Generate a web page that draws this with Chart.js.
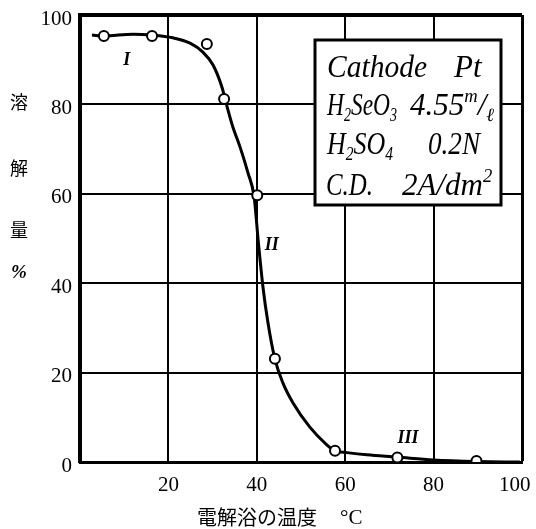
<!DOCTYPE html>
<html>
<head>
<meta charset="utf-8">
<script src="https://cdn.jsdelivr.net/npm/chart.js@4"></script>
<style>
  body { margin: 0; background: #fff; }
  canvas { display: block; }
</style>
</head>
<body>
<canvas id="myChart" width="536" height="529"></canvas>
<script>
// measured points (open circles)
const pointTemps = [5.4, 16.3, 28.7, 32.6, 40.1, 44.1, 57.7, 71.8, 89.7];
const pointValues = [95.3, 95.3, 93.5, 81.2, 59.7, 23.1, 2.5, 1.0, 0.2];

// hand drawn curve through them
const curveTemps = [2.7, 5.4, 12.0, 16.3, 21.0, 24.9, 27.8, 30.1, 32.1, 33.3, 34.6, 36.2, 38.0, 39.4, 40.3, 41.4, 42.5, 44.1, 45.9, 48.2, 52.0, 55.9, 57.7, 60.4, 64.9, 71.7, 79.9, 89.8, 99.5];
const curveValues = [95.5, 95.3, 95.7, 95.5, 94.9, 93.7, 91.7, 88.8, 83.9, 79.4, 74.9, 70.5, 64.7, 59.3, 49.7, 39.1, 31.3, 23.0, 17.7, 13.2, 7.8, 3.8, 2.5, 2.1, 1.6, 1.1, 0.45, 0.1, 0];

const xTicks = [0, 20, 40, 60, 80, 100];
const yTicks = [0, 20, 40, 60, 80, 100];

// region labels I, II, III
const regionLabels = ['I', 'II', 'III'];
const regionTemps = [10.6, 43.4, 74.2];
const regionValues = [89.9, 48.5, 5.4];

const serif = "'Liberation Serif', 'DejaVu Serif', serif";
const cjk = "'Noto Sans CJK JP', sans-serif";

// draws text with sub/superscripts, squeezed to fit a width
function drawParts(ctx, x, y, parts, size, width) {
  const fontFor = k => 'italic ' + (k === 'n' ? size : size * 0.6) + 'px ' + serif;
  let total = 0;
  parts.forEach(p => { ctx.font = fontFor(p[1]); total += ctx.measureText(p[0]).width; });
  const k = Math.min(1, width / total);
  ctx.save();
  ctx.translate(x, y);
  ctx.scale(k, 1);
  let cx = 0;
  parts.forEach(p => {
    let dy = 0;
    if (p[1] === 'sub') dy = 6;
    if (p[1] === 'sup') dy = -13;
    ctx.font = fontFor(p[1]);
    ctx.fillText(p[0], cx, dy);
    cx += ctx.measureText(p[0]).width;
  });
  ctx.restore();
}

const annotations = {
  id: 'annotations',
  afterDraw(chart) {
    const ctx = chart.ctx;
    const xs = chart.scales.x, ys = chart.scales.y;
    ctx.save();
    ctx.fillStyle = '#000';

    // y axis title, stacked characters
    ctx.textAlign = 'center';
    ctx.textBaseline = 'middle';
    ctx.font = '18px ' + cjk;
    ctx.fillText('溶', 19, 102);
    ctx.fillText('解', 19, 168);
    ctx.fillText('量', 19, 230);
    ctx.font = 'bold italic 19px ' + serif;
    ctx.fillText('%', 19, 273);

    // x axis title
    ctx.textAlign = 'left';
    ctx.font = '20px ' + cjk;
    ctx.fillText('電解浴の温度', 197, 517);
    ctx.font = '21px ' + serif;
    ctx.fillText('°C', 340, 518);

    // region numerals
    ctx.textAlign = 'center';
    ctx.font = 'bold italic 18px ' + serif;
    regionLabels.forEach((t, i) => {
      ctx.fillText(t, xs.getPixelForValue(regionTemps[i]), ys.getPixelForValue(regionValues[i]));
    });

    // conditions box
    ctx.fillStyle = '#fff';
    ctx.fillRect(315, 40, 186, 165);
    ctx.strokeStyle = '#000';
    ctx.lineWidth = 3;
    ctx.strokeRect(315, 40, 186, 165);
    ctx.fillStyle = '#000';
    ctx.textAlign = 'left';
    ctx.textBaseline = 'alphabetic';
    const fs = 31;
    drawParts(ctx, 327, 77, [['Cathode', 'n']], fs, 100);
    drawParts(ctx, 454, 77, [['Pt', 'n']], fs, 35);
    drawParts(ctx, 327, 115, [['H', 'n'], ['2', 'sub'], ['SeO', 'n'], ['3', 'sub']], fs, 70);
    drawParts(ctx, 410, 115, [['4.55', 'n'], ['m', 'sup'], ['/', 'n'], ['ℓ', 'sub']], fs, 86);
    drawParts(ctx, 327, 154, [['H', 'n'], ['2', 'sub'], ['SO', 'n'], ['4', 'sub']], fs, 66);
    drawParts(ctx, 428, 154, [['0.2N', 'n']], fs, 52);
    drawParts(ctx, 326, 195, [['C.D.', 'n']], fs, 47);
    drawParts(ctx, 402, 195, [['2A', 'n'], ['/', 'n'], ['dm', 'n'], ['2', 'sup']], fs, 95);
    ctx.restore();
  }
};

const ctx = document.getElementById('myChart').getContext('2d');
const myChart = new Chart(ctx, {
  type: 'scatter',
  data: {
    datasets: [{
      label: 'points',
      data: pointTemps.map((t, i) => ({x: t, y: pointValues[i]})),
      showLine: false,
      pointRadius: 5,
      pointBorderWidth: 2,
      pointBackgroundColor: '#fff',
      pointBorderColor: '#000'
    }, {
      label: 'curve',
      data: curveTemps.map((t, i) => ({x: t, y: curveValues[i]})),
      showLine: true,
      borderColor: '#000',
      borderWidth: 3,
      pointRadius: 0,
      cubicInterpolationMode: 'monotone'
    }]
  },
  options: {
    responsive: false,
    animation: false,
    layout: { padding: 0 },
    plugins: { legend: { display: false }, tooltip: { enabled: false } },
    scales: {
      x: {
        type: 'linear', min: 0, max: 100,
        afterBuildTicks: s => { s.ticks = xTicks.map(v => ({value: v})); },
        ticks: {
          color: '#000', padding: 11,
          font: { family: serif, size: 21 },
          // the 100 label sits a little left of its gridline, as in the print
          callback: v => v === 0 ? '' : (v === 100 ? '100\u2002\u2009' : v)
        },
        grid: { color: '#000', lineWidth: c => c.tick && c.tick.value === 100 ? 3 : 2, drawTicks: false },
        border: { color: '#000', width: 3 },
        afterFit: s => { s.height = 67; s.paddingLeft = 0; s.paddingRight = 14; }
      },
      y: {
        min: 0, max: 100,
        afterBuildTicks: s => { s.ticks = yTicks.map(v => ({value: v})); },
        ticks: {
          color: '#000', padding: 8, labelOffset: 4,
          font: { family: serif, size: 21 }
        },
        grid: { color: '#000', lineWidth: c => c.tick && c.tick.value === 100 ? 4 : 2, drawTicks: false },
        border: { color: '#000', width: 4 },
        afterFit: s => { s.width = 80; s.paddingTop = 15; s.paddingBottom = 0; }
      }
    }
  },
  plugins: [annotations]
});
</script>
</body>
</html>
